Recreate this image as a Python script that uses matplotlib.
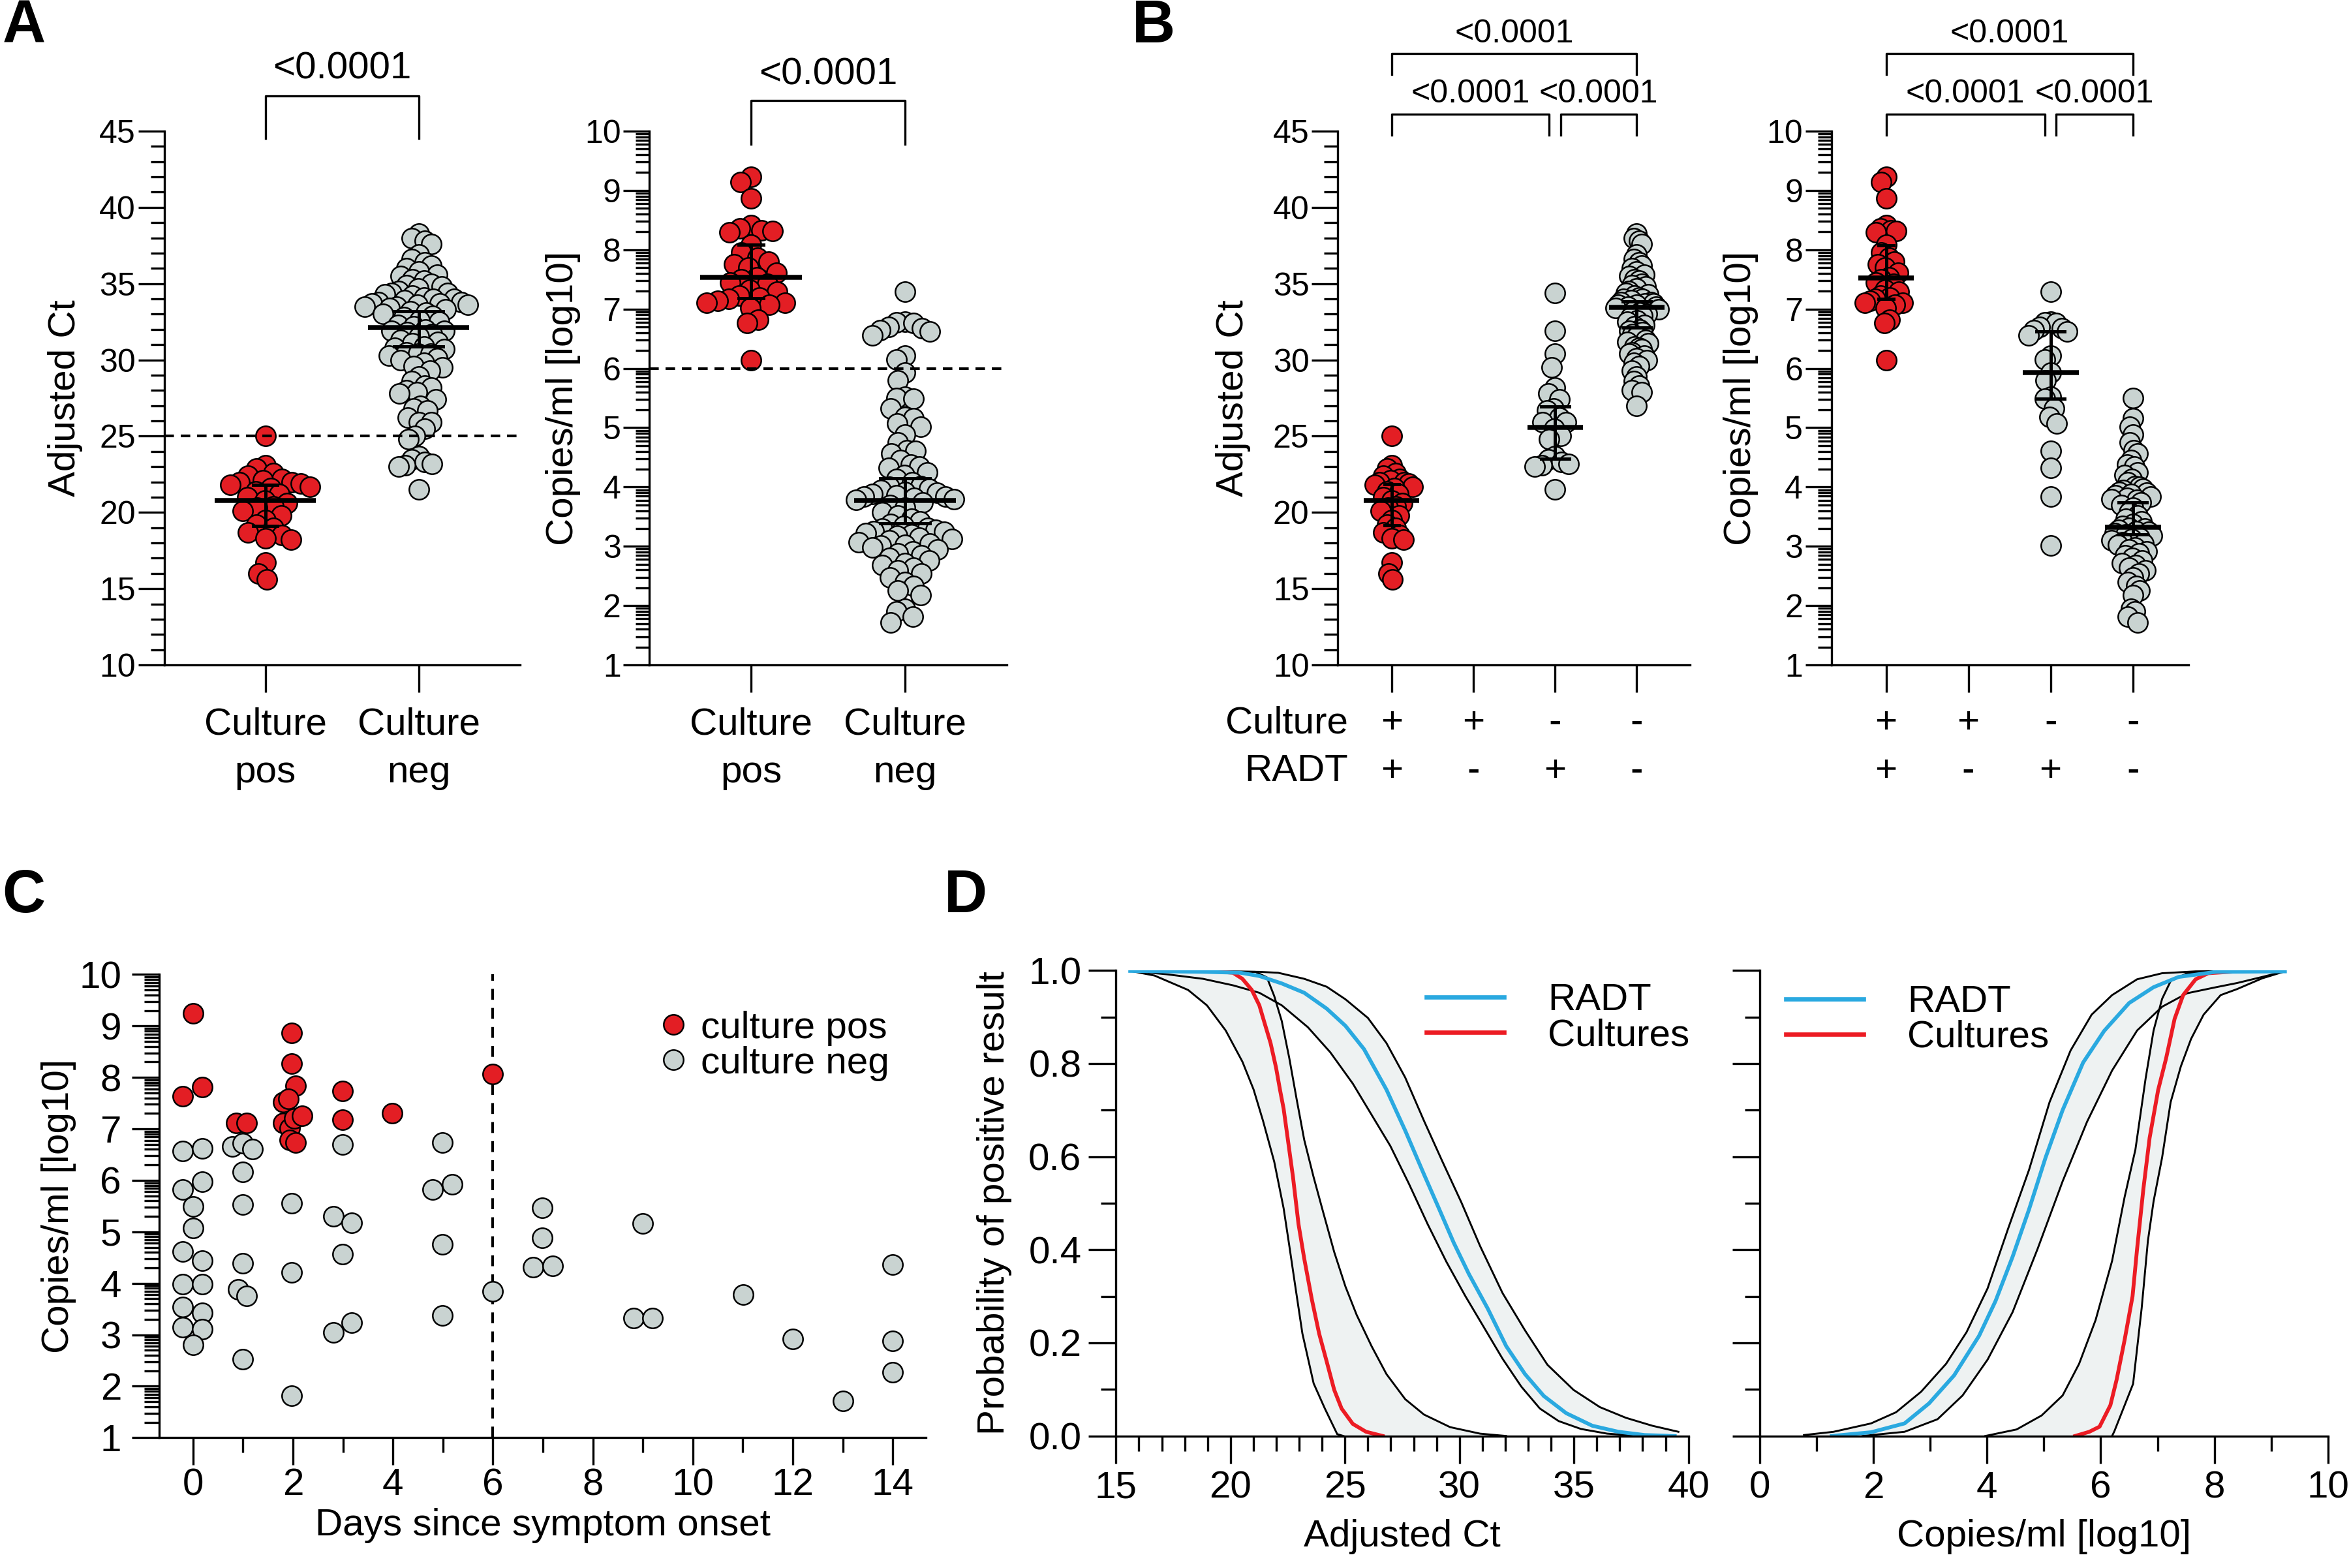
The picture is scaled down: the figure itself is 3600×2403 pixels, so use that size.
import numpy as np
import matplotlib.pyplot as plt
from matplotlib.ticker import MultipleLocator, FixedLocator, FormatStrFormatter
from matplotlib.lines import Line2D

plt.rcParams['font.family'] = ['Liberation Sans', 'DejaVu Sans']
plt.rcParams['axes.linewidth'] = 0.8
for k in ['xtick.major.width', 'ytick.major.width', 'xtick.minor.width', 'ytick.minor.width']:
    plt.rcParams[k] = 0.8

FW, FH = 12, 8.01
RED = '#e31e24'
GREY = '#c9d3d1'
BLUE = '#2aa9e0'
CRED = '#ec1c24'
BAND = '#eef2f2'
MS = 7.3  # marker diameter (pt)

# ---------------- data: panels A / B ----------------
# adjusted Ct
ct_pp = [25.0, 23.1, 22.9, 22.6, 22.4, 22.2, 22.1, 22.0, 22.0, 21.9, 21.8, 21.7, 21.6, 21.4, 21.2, 21.0,
         20.8, 20.6, 20.4, 20.3, 20.1, 19.8, 19.5, 19.2, 19.0, 18.7, 18.5, 18.3, 18.2, 16.7, 16.0, 15.6]
ct_np = [34.4, 31.9, 30.4, 29.5, 28.2, 27.8, 27.4, 26.8, 26.7, 26.2, 25.9, 25.9, 25.5, 25.0, 24.8, 23.7,
         23.5, 23.3, 23.2, 23.1, 23.0, 21.5]
ct_nn = [38.3, 38.0, 37.8, 37.6, 36.9, 36.6, 36.4, 36.2, 36.0, 35.8, 35.6, 35.5, 35.3, 35.2, 35.0, 34.9,
         34.8, 34.7, 34.5, 34.4, 34.3, 34.2, 34.1, 34.0, 34.0, 33.9, 33.8, 33.8, 33.7, 33.7, 33.6, 33.6,
         33.5, 33.5, 33.4, 33.3, 33.2, 33.1, 33.0, 32.9, 32.8, 32.6, 32.5, 32.3, 32.2, 32.0, 31.9, 31.8,
         31.7, 31.5, 31.3, 31.2, 31.1, 30.9, 30.8, 30.7, 30.5, 30.4, 30.3, 30.1, 30.0, 29.8, 29.6, 29.3,
         28.9, 28.6, 28.3, 28.0, 27.9, 27.0]
# copies/ml [log10]
cp_pp = [9.23, 9.14, 8.87, 8.41, 8.36, 8.33, 8.32, 8.29, 8.08, 7.95, 7.86, 7.80, 7.75, 7.70, 7.61, 7.53,
         7.50, 7.45, 7.42, 7.33, 7.29, 7.23, 7.19, 7.17, 7.14, 7.11, 7.11, 7.07, 7.02, 6.82, 6.76, 6.14]
cp_np = [7.29, 6.79, 6.78, 6.76, 6.70, 6.68, 6.64, 6.62, 6.56, 6.21, 6.15, 5.93, 5.80, 5.52, 5.49, 5.32,
         5.18, 5.07, 4.61, 4.32, 3.84, 3.01]
cp_nn = [5.50, 5.16, 5.02, 4.88, 4.75, 4.62, 4.57, 4.45, 4.38, 4.34, 4.25, 4.20, 4.14, 4.08, 4.02, 4.00,
         3.97, 3.95, 3.92, 3.90, 3.88, 3.86, 3.84, 3.82, 3.80, 3.78, 3.74, 3.70, 3.65, 3.58, 3.52, 3.47,
         3.42, 3.38, 3.34, 3.31, 3.30, 3.28, 3.26, 3.24, 3.22, 3.20, 3.18, 3.15, 3.12, 3.10, 3.07, 3.05,
         3.02, 2.98, 2.95, 2.92, 2.88, 2.85, 2.80, 2.76, 2.72, 2.68, 2.64, 2.60, 2.54, 2.47, 2.40, 2.33,
         2.26, 2.18, 1.95, 1.90, 1.82, 1.72]

# median and 95% CI shown as lines
a_ct_med, a_ct_lo, a_ct_hi = [20.8, 32.1], [19.1, 30.9], [21.8, 33.2]
a_cp_med, a_cp_lo, a_cp_hi = [7.53, 3.77], [7.18, 3.39], [8.08, 4.15]
b_ct_med, b_ct_lo, b_ct_hi = [20.78, np.nan, 25.57, 33.43], [19.15, np.nan, 23.52, 32.12], [21.87, np.nan, 26.93, 33.85]
b_cp_med, b_cp_lo, b_cp_hi = [7.52, np.nan, 5.93, 3.32], [7.17, np.nan, 5.49, 3.20], [8.07, np.nan, 6.62, 3.74]

cat_a = ['Culture\npos', 'Culture\nneg']
row_b = ['Culture', 'RADT']
culture_b = ['+', '+', '-', '-']
radt_b = ['+', '-', '+', '-']
p_text = '<0.0001'

# ---------------- data: panel C ----------------
c_pos_day = [0.0, -0.2, 0.18, 0.87, 1.07, 1.98, 1.98, 2.05, 1.8, 1.91, 1.8, 1.93, 2.02, 2.18, 1.93, 2.05,
             2.99, 2.99, 3.99, 6.0]
c_pos_val = [9.24, 7.64, 7.81, 7.11, 7.11, 8.86, 8.27, 7.84, 7.52, 7.58, 7.11, 7.01, 7.21, 7.26, 6.79, 6.74,
             7.74, 7.18, 7.31, 8.07]
c_neg_day = [-0.2, 0.18, 0.18, -0.2, 0.0, 0.0, -0.2, 0.18, -0.2, 0.18, -0.2, 0.18, -0.2, 0.18, 0.0,
             0.79, 0.99, 1.19, 0.99, 0.99, 0.99, 0.9, 1.08, 0.99,
             1.98, 1.98, 1.98,
             2.99, 2.81, 3.18, 2.99, 2.81, 3.18,
             4.99, 4.8, 5.18, 4.99, 4.99,
             6.0,
             6.99, 6.99, 6.8, 7.19,
             9.0, 8.82, 9.19,
             11.01, 12.0, 13.0,
             14.0, 14.0, 14.0]
c_neg_val = [6.57, 6.62, 5.97, 5.82, 5.49, 5.07, 4.62, 4.44, 3.98, 3.98, 3.54, 3.42, 3.15, 3.11, 2.80,
             6.66, 6.72, 6.61, 6.16, 5.53, 4.39, 3.88, 3.76, 2.52,
             5.56, 4.21, 1.81,
             6.70, 5.30, 5.18, 4.57, 3.05, 3.23,
             6.74, 5.82, 5.92, 4.76, 3.38,
             3.84,
             5.47, 4.88, 4.31, 4.34,
             5.16, 3.32, 3.32,
             3.78, 2.92, 1.71,
             4.36, 2.88, 2.27]

# ---------------- data: panel D (logistic fits) ----------------
radt_ct_x = [15.62, 18.8, 20.44, 21.26, 22.24, 23.22, 24.2, 25.02, 25.83, 26.81, 27.63, 28.45, 29.1, 29.75,
             30.41, 31.23, 32.04, 32.86, 33.68, 34.66, 35.8, 36.94, 38.09, 39.4]
radt_ct_p = [0.999, 0.997, 0.995, 0.988, 0.972, 0.952, 0.918, 0.881, 0.831, 0.744, 0.656, 0.562, 0.489, 0.415,
             0.348, 0.274, 0.193, 0.133, 0.086, 0.049, 0.022, 0.009, 0.002, 0.0]
radt_ct_hi_x = [15.62, 21.26, 22.08, 23.22, 24.2, 25.02, 26.0, 26.81, 27.63, 28.45, 29.26, 30.08, 30.9, 31.88,
                32.86, 33.84, 34.98, 36.13, 37.27, 38.42, 39.56]
radt_ct_hi_p = [1.0, 0.997, 0.995, 0.982, 0.965, 0.938, 0.898, 0.844, 0.77, 0.677, 0.589, 0.502, 0.408, 0.307,
                0.227, 0.153, 0.099, 0.062, 0.039, 0.022, 0.009]
radt_ct_lo_x = [15.62, 17.17, 18.8, 20.11, 21.26, 22.24, 23.38, 24.36, 25.34, 26.16, 26.98, 27.79, 28.61, 29.43,
                30.25, 31.06, 31.88, 32.7, 33.51, 34.33, 35.31, 36.45, 37.6, 38.42]
radt_ct_lo_p = [0.999, 0.992, 0.982, 0.968, 0.952, 0.925, 0.878, 0.824, 0.757, 0.69, 0.623, 0.542, 0.455, 0.374,
                0.301, 0.234, 0.166, 0.106, 0.059, 0.032, 0.015, 0.005, 0.001, 0.0]
cult_ct_x = [18.8, 19.62, 20.11, 20.52, 20.93, 21.26, 21.5, 21.75, 21.99, 22.16, 22.32, 22.73, 22.97, 23.22,
             23.55, 23.87, 24.2, 24.53, 24.85, 25.34, 25.92, 26.65]
cult_ct_p = [0.999, 0.997, 0.995, 0.982, 0.958, 0.925, 0.885, 0.844, 0.791, 0.744, 0.703, 0.556, 0.455, 0.381,
             0.294, 0.22, 0.16, 0.099, 0.059, 0.026, 0.009, 0.0]
cult_ct_lo_x = [15.62, 16.68, 18.15, 18.97, 19.79, 20.52, 21.01, 21.42, 21.91, 22.32, 22.57, 22.81, 23.14, 23.63,
                24.12, 24.66, 24.93]
cult_ct_lo_p = [0.999, 0.989, 0.958, 0.925, 0.871, 0.804, 0.744, 0.677, 0.589, 0.489, 0.408, 0.328, 0.22, 0.113,
                0.059, 0.004, 0.0]
cult_ct_hi_x = [15.62, 21.09, 21.59, 21.91, 22.24, 22.57, 22.89, 23.22, 23.63, 24.04, 24.53, 25.02, 25.51, 26.16,
                26.81, 27.63, 28.45, 29.59, 30.9, 32.04]
cult_ct_hi_p = [1.0, 0.997, 0.985, 0.945, 0.891, 0.811, 0.723, 0.636, 0.556, 0.482, 0.395, 0.321, 0.26, 0.193,
                0.133, 0.079, 0.046, 0.019, 0.005, 0.0]

radt_cp_x = [1.27, 1.96, 2.55, 2.98, 3.42, 3.86, 4.15, 4.45, 4.74, 5.03, 5.33, 5.69, 6.06, 6.5, 6.93, 7.37,
             8.03, 9.24]
radt_cp_p = [0.0, 0.008, 0.027, 0.07, 0.13, 0.215, 0.29, 0.385, 0.487, 0.598, 0.7, 0.802, 0.87, 0.93, 0.964,
             0.986, 0.997, 0.998]
radt_cp_hi_x = [0.78, 1.3, 1.96, 2.4, 2.84, 3.28, 3.64, 4.01, 4.37, 4.74, 5.1, 5.47, 5.84, 6.2, 6.64, 7.08,
                7.67, 9.24]
radt_cp_hi_p = [0.002, 0.009, 0.027, 0.051, 0.095, 0.155, 0.223, 0.317, 0.445, 0.572, 0.717, 0.828, 0.905,
                0.947, 0.981, 0.994, 0.998, 1.0]
radt_cp_lo_x = [1.81, 2.55, 3.13, 3.57, 4.01, 4.45, 4.89, 5.33, 5.76, 6.2, 6.64, 7.08, 7.52, 8.03, 8.4, 8.84,
                9.24]
radt_cp_lo_p = [0.0, 0.009, 0.036, 0.087, 0.164, 0.266, 0.402, 0.547, 0.675, 0.785, 0.871, 0.922, 0.951, 0.964,
                0.973, 0.986, 0.998]
cult_cp_x = [5.55, 5.8, 5.98, 6.17, 6.28, 6.42, 6.56, 6.64, 6.75, 6.86, 7.01, 7.15, 7.3, 7.45, 7.67, 7.89, 8.4]
cult_cp_p = [0.0, 0.009, 0.02, 0.066, 0.121, 0.206, 0.3, 0.402, 0.53, 0.64, 0.743, 0.811, 0.896, 0.947, 0.981,
             0.994, 0.998]
cult_cp_hi_x = [3.97, 4.52, 4.96, 5.33, 5.62, 5.91, 6.2, 6.42, 6.61, 6.79, 6.93, 7.08, 7.23, 7.52, 8.03, 9.24]
cult_cp_hi_p = [0.0, 0.014, 0.044, 0.087, 0.155, 0.249, 0.376, 0.513, 0.615, 0.768, 0.871, 0.939, 0.977, 0.994,
                0.998, 1.0]
cult_cp_lo_x = [6.2, 6.24, 6.57, 6.72, 6.83, 6.93, 7.08, 7.23, 7.41, 7.59, 7.81, 8.11, 8.4, 8.84, 9.24]
cult_cp_lo_p = [0.0, 0.01, 0.112, 0.274, 0.419, 0.504, 0.598, 0.717, 0.794, 0.853, 0.905, 0.947, 0.96, 0.983,
                0.998]


# ---------------- helpers ----------------
def clean(ax):
    ax.spines['top'].set_visible(False)
    ax.spines['right'].set_visible(False)


def log_minor(lo, hi):
    return [n + np.log10(k) for n in range(lo, hi) for k in range(2, 10)]


def swarm(ax, x0, vals, color, hw, spacing=0.8):
    # simple beeswarm in points, then squeezed to the half width hw
    pos = ax.get_position()
    xl, yl = ax.get_xlim(), ax.get_ylim()
    kx = pos.width * FW * 72 / (xl[1] - xl[0])
    ky = pos.height * FH * 72 / (yl[1] - yl[0])
    vals = np.sort(np.asarray(vals, dtype=float))[::-1]
    y = vals * ky
    s = spacing * MS
    off = np.zeros(len(y))
    for i in range(len(y)):
        forb, cands = [], [0.0]
        for j in range(i):
            dy = y[i] - y[j]
            if abs(dy) < s:
                dx = np.sqrt(s * s - dy * dy)
                forb.append((off[j] - dx, off[j] + dx))
                cands += [off[j] - dx, off[j] + dx]
        for c in sorted(cands, key=abs):
            if all(not (a + 1e-6 < c < b - 1e-6) for a, b in forb):
                off[i] = c
                break
    off = off / kx
    m = np.abs(off).max()
    if m > hw:
        off = off * hw / m
    ax.scatter(x0 + off, vals, s=MS ** 2, c=color, edgecolors='black', linewidths=0.6, zorder=3, clip_on=False)


def med_ci(ax, med, lo, hi, caps, hw):
    for x, m, l, h, c in zip(range(len(med)), med, lo, hi, caps):
        if np.isnan(m):
            continue
        ax.plot([x - hw, x + hw], [m, m], color='black', lw=1.8, zorder=5, solid_capstyle='butt')
        ax.plot([x, x], [l, h], color='black', lw=1.2, zorder=5)
        ax.plot([x - c, x + c], [l, l], color='black', lw=1.2, zorder=5)
        ax.plot([x - c, x + c], [h, h], color='black', lw=1.2, zorder=5)


def bracket(ax, x1, x2, ytop, ybot, ytext, fs):
    tr = ax.get_xaxis_transform()
    ax.plot([x1, x1, x2, x2], [ybot, ytop, ytop, ybot], color='black', lw=0.8, transform=tr, clip_on=False)
    ax.text((x1 + x2) / 2, ytext, p_text, ha='center', va='center', transform=tr, fontsize=fs)


def swarm_axes(ax, ylim, log=False, ncat=2):
    clean(ax)
    ax.set_ylim(*ylim)
    if log:
        ax.yaxis.set_major_locator(MultipleLocator(1))
        ax.yaxis.set_minor_locator(FixedLocator(log_minor(int(ylim[0]), int(ylim[1]))))
    else:
        ax.yaxis.set_major_locator(MultipleLocator(5))
        ax.yaxis.set_minor_locator(MultipleLocator(1))
    ax.set_xticks(range(ncat))
    ax.set_xticklabels([])
    ax.tick_params(axis='y', which='major', length=9.5, pad=1, labelsize=12)
    ax.tick_params(axis='y', which='minor', length=5)
    ax.tick_params(axis='x', which='major', length=10)


fig = plt.figure(figsize=(FW, FH), dpi=300)

# ---------------- panel A ----------------
axA1 = fig.add_axes([0.0699, 0.5759, 0.1514, 0.3405])
axA2 = fig.add_axes([0.2765, 0.5759, 0.1521, 0.3405])
for ax in (axA1, axA2):
    ax.set_xlim(-0.66, 1.66)
swarm_axes(axA1, (10, 45))
swarm_axes(axA2, (1, 10), log=True)

swarm(axA1, 0, ct_pp, RED, 0.29)
swarm(axA1, 1, ct_np + ct_nn, GREY, 0.35)
med_ci(axA1, a_ct_med, a_ct_lo, a_ct_hi, [0.08, 0.16], 0.33)
axA1.axhline(25, color='black', lw=1.0, ls=(0, (3.5, 2.5)), zorder=4)
axA1.set_ylabel('Adjusted Ct', fontsize=14, labelpad=6)
bracket(axA1, 0, 1, 1.066, 0.986, 1.116, 14)

swarm(axA2, 0, cp_pp, RED, 0.29)
swarm(axA2, 1, cp_np + cp_nn, GREY, 0.32)
med_ci(axA2, a_cp_med, a_cp_lo, a_cp_hi, [0.08, 0.16], 0.33)
axA2.axhline(6, color='black', lw=1.0, ls=(0, (3.5, 2.5)), zorder=4)
axA2.set_ylabel('Copies/ml [log10]', fontsize=14, labelpad=1.5)
bracket(axA2, 0, 1, 1.057, 0.976, 1.106, 14)

for ax in (axA1, axA2):
    tr = ax.get_xaxis_transform()
    for i, lab in enumerate(cat_a):
        l1, l2 = lab.split('\n')
        ax.text(i, -0.112, l1, ha='center', va='center', transform=tr, fontsize=14)
        ax.text(i, -0.202, l2, ha='center', va='center', transform=tr, fontsize=14)

# ---------------- panel B ----------------
axB1 = fig.add_axes([0.5695, 0.5759, 0.1499, 0.3405])
axB2 = fig.add_axes([0.7797, 0.5759, 0.1521, 0.3405])
axB1.set_xlim(-0.66, 3.65)
axB2.set_xlim(-0.663, 3.68)
swarm_axes(axB1, (10, 45), ncat=4)
swarm_axes(axB2, (1, 10), log=True, ncat=4)

swarm(axB1, 0, ct_pp, RED, 0.26)
swarm(axB1, 2, ct_np, GREY, 0.25)
swarm(axB1, 3, ct_nn, GREY, 0.27)
med_ci(axB1, b_ct_med, b_ct_lo, b_ct_hi, [0.09, 0, 0.17, 0.17], 0.34)
axB1.set_ylabel('Adjusted Ct', fontsize=14, labelpad=8)

swarm(axB2, 0, cp_pp, RED, 0.26)
swarm(axB2, 2, cp_np, GREY, 0.27)
swarm(axB2, 3, cp_nn, GREY, 0.26)
med_ci(axB2, b_cp_med, b_cp_lo, b_cp_hi, [0.09, 0, 0.17, 0.17], 0.34)
axB2.set_ylabel('Copies/ml [log10]', fontsize=14, labelpad=3)

for ax in (axB1, axB2):
    bracket(ax, 0, 3, 1.145, 1.106, 1.182, 12)
    bracket(ax, 0, 1.93, 1.032, 0.992, 1.069, 12)
    bracket(ax, 2.07, 3, 1.032, 0.992, 1.069, 12)
    tr = ax.get_xaxis_transform()
    for i in range(4):
        ax.text(i, -0.109, culture_b[i], ha='center', va='center', transform=tr, fontsize=14)
        ax.text(i, -0.199, radt_b[i], ha='center', va='center', transform=tr, fontsize=14)
trB = axB1.get_xaxis_transform()
axB1.text(-0.53, -0.109, row_b[0], ha='right', va='center', transform=trB, fontsize=14)
axB1.text(-0.53, -0.199, row_b[1], ha='right', va='center', transform=trB, fontsize=14)

# ---------------- panel C ----------------
axC = fig.add_axes([0.0679, 0.0831, 0.3262, 0.2954])
clean(axC)
axC.set_xlim(-0.67, 14.66)
axC.set_ylim(1, 10)
axC.axvline(6, color='black', lw=1.0, ls=(0, (4, 3)), zorder=1)
axC.scatter(c_neg_day, c_neg_val, s=MS ** 2, c=GREY, edgecolors='black', linewidths=0.6, zorder=3)
axC.scatter(c_pos_day, c_pos_val, s=MS ** 2, c=RED, edgecolors='black', linewidths=0.6, zorder=4)
axC.xaxis.set_major_locator(MultipleLocator(2))
axC.xaxis.set_minor_locator(MultipleLocator(1))
axC.yaxis.set_major_locator(MultipleLocator(1))
axC.yaxis.set_minor_locator(FixedLocator(log_minor(1, 10)))
axC.tick_params(which='major', length=10, labelsize=14)
axC.tick_params(axis='y', which='major', pad=4)
axC.tick_params(axis='x', which='major', pad=1)
axC.tick_params(which='minor', length=5.5)
axC.set_xlabel('Days since symptom onset', fontsize=14, labelpad=2)
axC.set_ylabel('Copies/ml [log10]', fontsize=14, labelpad=1)
hC = [Line2D([], [], ls='', marker='o', ms=MS, mfc=RED, mec='black', mew=0.6),
      Line2D([], [], ls='', marker='o', ms=MS, mfc=GREY, mec='black', mew=0.6)]
axC.legend(hC, ['culture pos', 'culture neg'], loc='upper left', bbox_to_anchor=(0.646, 0.922),
           frameon=False, fontsize=14, borderpad=0, borderaxespad=0, handlelength=1.0,
           handletextpad=0.22, labelspacing=0.0)

# ---------------- panel D ----------------
axD1 = fig.add_axes([0.4751, 0.0842, 0.2437, 0.2969])
axD2 = fig.add_axes([0.7491, 0.0842, 0.2420, 0.2969])


def band(ax, x1, p1, x2, p2):
    ax.fill(np.r_[x1, x2[::-1]], np.r_[p1, p2[::-1]], color=BAND, lw=0, zorder=1)
    ax.plot(x1, p1, color='black', lw=0.7, zorder=2)
    ax.plot(x2, p2, color='black', lw=0.7, zorder=2)


band(axD1, np.array(radt_ct_hi_x), np.array(radt_ct_hi_p), np.array(radt_ct_lo_x), np.array(radt_ct_lo_p))
band(axD1, np.array(cult_ct_hi_x), np.array(cult_ct_hi_p), np.array(cult_ct_lo_x), np.array(cult_ct_lo_p))
axD1.plot(cult_ct_x, cult_ct_p, color=CRED, lw=1.4, zorder=3)
axD1.plot(radt_ct_x, radt_ct_p, color=BLUE, lw=1.4, zorder=4)

band(axD2, np.array(radt_cp_hi_x), np.array(radt_cp_hi_p), np.array(radt_cp_lo_x), np.array(radt_cp_lo_p))
band(axD2, np.array(cult_cp_hi_x), np.array(cult_cp_hi_p), np.array(cult_cp_lo_x), np.array(cult_cp_lo_p))
axD2.plot(cult_cp_x, cult_cp_p, color=CRED, lw=1.4, zorder=3)
axD2.plot(radt_cp_x, radt_cp_p, color=BLUE, lw=1.4, zorder=4)

axD1.set_xlim(15, 40)
axD2.set_xlim(0, 10)
axD1.xaxis.set_major_locator(MultipleLocator(5))
axD1.xaxis.set_minor_locator(MultipleLocator(1))
axD2.xaxis.set_major_locator(MultipleLocator(2))
axD2.xaxis.set_minor_locator(MultipleLocator(1))
for ax in (axD1, axD2):
    clean(ax)
    ax.set_ylim(0, 1)
    ax.yaxis.set_major_locator(MultipleLocator(0.2))
    ax.yaxis.set_minor_locator(MultipleLocator(0.1))
    ax.yaxis.set_major_formatter(FormatStrFormatter('%.1f'))
    ax.tick_params(which='major', length=10, labelsize=14, pad=2.7)
    ax.tick_params(which='minor', length=5.5)
    ax.spines['left'].set_zorder(5)
    ax.spines['bottom'].set_zorder(5)
axD2.tick_params(axis='y', labelleft=False)
axD1.set_ylabel('Probability of positive result', fontsize=14, labelpad=6)
axD1.set_xlabel('Adjusted Ct', fontsize=14, labelpad=5)
axD2.set_xlabel('Copies/ml [log10]', fontsize=14, labelpad=5)

hD = [Line2D([], [], color=BLUE, lw=1.6), Line2D([], [], color=CRED, lw=1.6)]
for ax, xa, ya in ((axD1, 0.542, 0.973), (axD2, 0.046, 0.9695)):
    ax.legend(hD, ['RADT', 'Cultures'], loc='upper left', bbox_to_anchor=(xa, ya), frameon=False,
              fontsize=14, borderpad=0, borderaxespad=0, handlelength=2.05, handletextpad=1.14,
              labelspacing=0.0)

# panel letters
for x, y, s in ((0.001, 0.973, 'A'), (0.482, 0.973, 'B'), (0.001, 0.4182, 'C'), (0.4018, 0.4182, 'D')):
    fig.text(x, y, s, fontsize=22, fontweight='bold', ha='left', va='baseline')

fig.savefig('out.png', dpi=300)
